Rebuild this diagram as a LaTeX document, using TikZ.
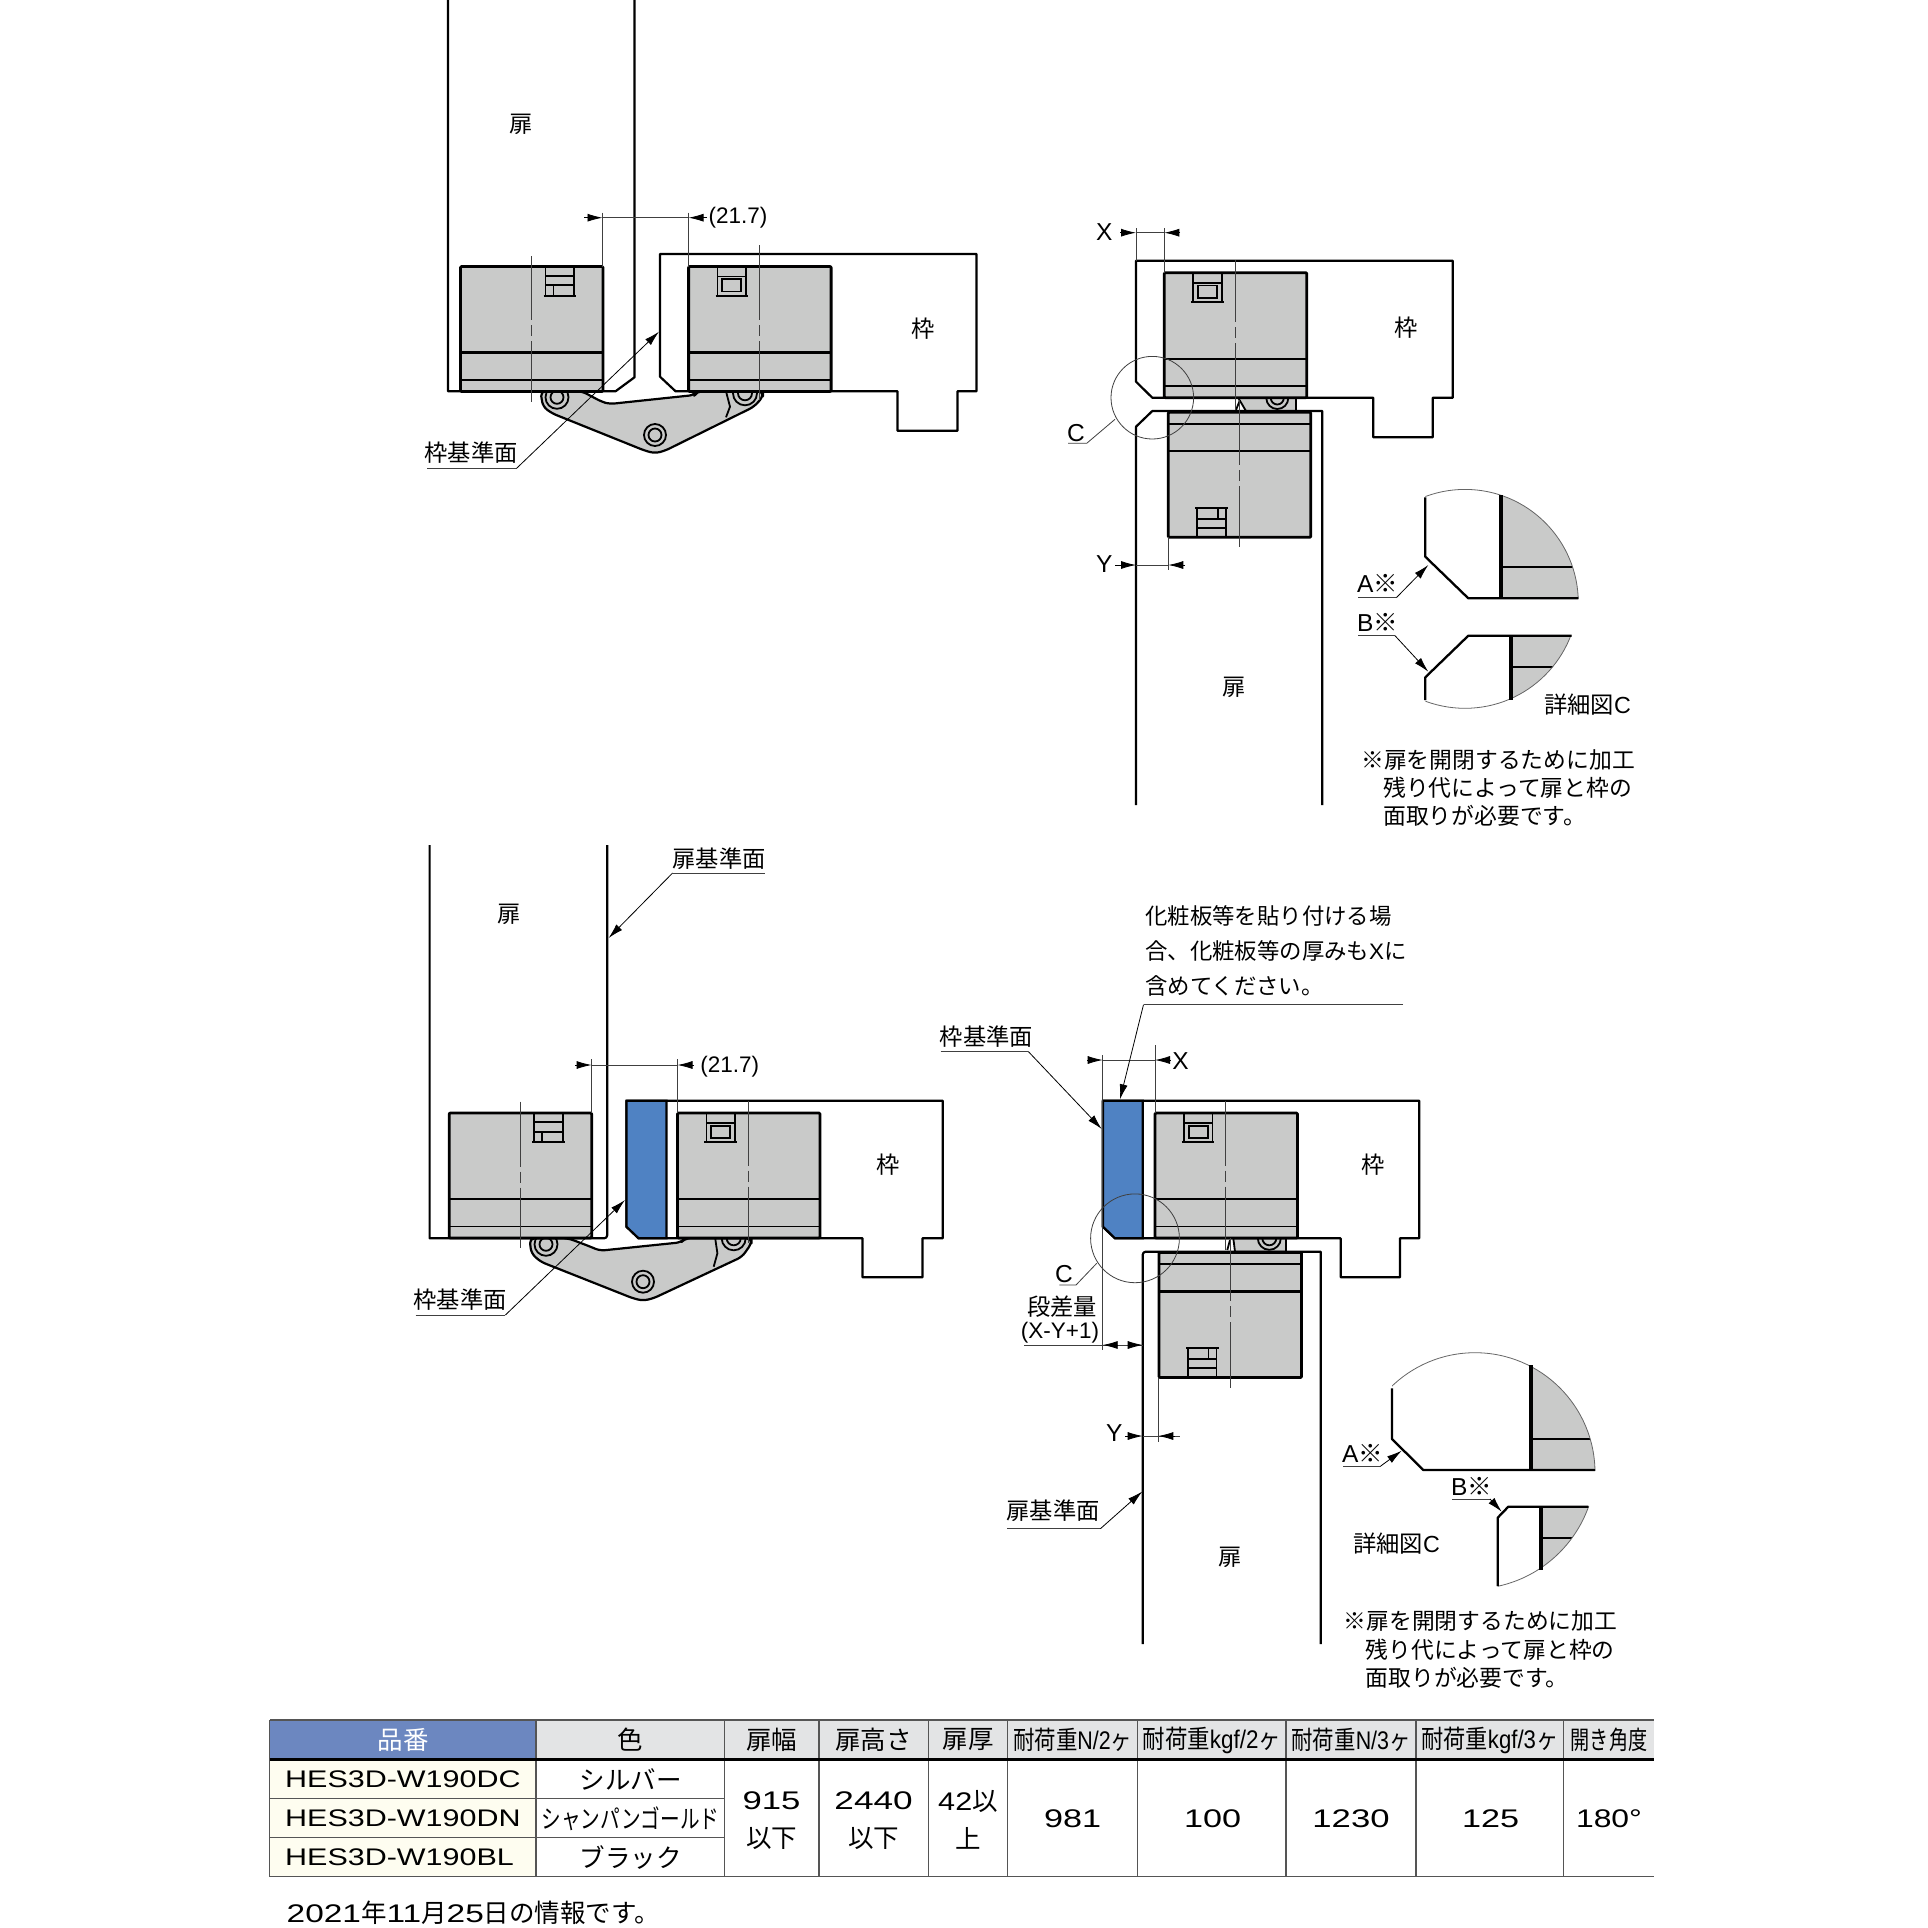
\documentclass[tikz,border=0pt]{standalone}
\usepackage{fontspec}
\usepackage{graphicx}
\usetikzlibrary{arrows.meta}
\setmainfont{Liberation Sans}
\newfontfamily\jpf{Noto Sans CJK JP}
\newcommand{\jp}[1]{{\jpf #1}}
\newcommand{\wn}[2]{\scalebox{#1}[1]{#2}}
\definecolor{hgray}{HTML}{C9CAC9}
\definecolor{bluep}{HTML}{4F82C3}
\definecolor{headb}{HTML}{6C87C0}
\definecolor{headg}{HTML}{E3E4E5}
\definecolor{heady}{HTML}{FEFDF0}
\definecolor{tline}{HTML}{555555}
\tikzset{
  outl/.style={draw=black,line width=2.2pt,line join=round,fill=white},
  boxo/.style={draw=black,line width=2.8pt,fill=hgray,line join=round},
  inl/.style={draw=black,line width=1.8pt},
  bandl/.style={draw=black,line width=2.2pt},
  thinl/.style={draw=black!75,line width=.8pt},
  tipp/.style={draw=black,line width=.8pt,-{Latex[black,length=15pt,width=8pt]}},
  cl/.style={draw=black!75,line width=.8pt,dash pattern=on #1pt off 5pt on 11pt off 5pt on 300pt},
  linkg/.style={draw=black,line width=2.2pt,fill=hgray,rounded corners=5pt,line join=round},
  lb/.style={inner sep=0pt,font=\jpf\fontsize{23.3}{26}\selectfont},
  lat/.style={inner sep=0pt,font=\fontsize{22.5}{26}\selectfont},
  big/.style={inner sep=0pt,font=\fontsize{24.5}{26}\selectfont},
  nt/.style={inner sep=0pt,anchor=west,font=\jpf\fontsize{22.8}{26}\selectfont},
  ntb/.style={inner sep=0pt,anchor=west,font=\jpf\fontsize{22.4}{26}\selectfont},
  tb/.style={inner sep=0pt,font=\fontsize{25.5}{28}\selectfont},
  tbl/.style={draw=tline,line width=1.2pt},
}
\newcommand{\hbase}{%
  \draw[boxo,rounded corners=1pt] (0,0) rectangle (142.5,125);
  \draw[bandl] (1,86) -- (141.5,86);
  \draw[inl] (1,113.5) -- (141.5,113.5);
}
% door-side bracket, ladder pattern
\newcommand{\hingeA}[1]{\begin{scope}[#1]
  \hbase
  \draw[inl] (85,0) -- (85,29.3);
  \draw[inl] (113.5,0) -- (113.5,29.3);
  \draw[inl] (83,29.3) -- (115.5,29.3);
  \draw[inl] (85,9.3) -- (113.5,9.3);
  \draw[inl] (85,18.7) -- (113.5,18.7);
  \draw[inl] (93,19) -- (93,29);
\end{scope}}
% frame-side bracket, window pattern
\newcommand{\hingeB}[1]{\begin{scope}[#1]
  \hbase
  \draw[inl] (28.9,0) -- (28.9,29.3);
  \draw[inl] (57.4,0) -- (57.4,29.3);
  \draw[inl] (26.9,29.3) -- (59.4,29.3);
  \draw[inl] (28.9,10) -- (57.4,10);
  \draw[inl] (33.6,12.7) rectangle (52.6,25);
\end{scope}}
\begin{document}
\begin{tikzpicture}[x=1pt,y=-1pt]
\useasboundingbox (0,0) rectangle (1928,1928);
\fill[white] (0,0) rectangle (1928,1928);

%%%%%%%% Diagram 1 (top left)
\path[linkg] (540.4,391.3) -- (543,406.7) -- (552,413.3) -- (645,450.7) -- (655,453.3) -- (665,450.7) -- (754,406.7) -- (763,396.7) -- (763,391.3) -- (696.6,391.3) -- (694.6,395) -- (609.6,404) -- (601.6,401.7) -- (582,391.3) -- cycle;
\draw[line width=1.8pt] (726,391.3) -- (730,406.7) -- (726,417.3);
\draw[inl] (557,397.3) circle [radius=11.5pt];
\draw[inl] (557,397.3) circle [radius=6.5pt];
\draw[inl] (655,435) circle [radius=11pt];
\draw[inl] (655,435) circle [radius=6.5pt];
\draw[inl] (745,393.3) circle [radius=12pt];
\draw[inl] (745,393.3) circle [radius=7pt];
\path[outl] (448,0) -- (448,391.3) -- (615.5,391.3) -- (634.5,377.3) -- (634.5,0);
\path[outl] (660,254) -- (976.5,254) -- (976.5,391.3) -- (957.5,391.3) -- (957.5,430.7) -- (897.5,430.7) -- (897.5,391.3) -- (675.6,391.3) -- (660,376.7) -- cycle;
\hingeA{shift={(460.5,266.5)}}
\hingeB{shift={(688.6,266.5)}}
\draw[cl=64] (531,256) -- (531,401.7);
\draw[cl=75] (759,245) -- (759,400);
\draw[thinl] (602.5,212.7) -- (602.5,266.5);
\draw[thinl] (688.6,212.7) -- (688.6,266.5);
\draw[thinl] (602.5,217.7) -- (688.6,217.7);
\draw[tipp] (584,217.7) -- (602.5,217.7);
\draw[tipp] (707,217.7) -- (688.6,217.7);
\node[lat] (d1dim) at (738,217.5) {(21.7)};
\node[lb] (d1door) at (521.5,124.5) {扉};
\node[lb] (d1frame) at (923.5,328.5) {枠};
\node[lb] (d1lab) at (471,452.5) {枠基準面};
\draw[thinl] (427,468.3) -- (516.6,468.3);
\draw[tipp] (516.6,468.3) -- (659,331.7);

%%%%%%%% Diagram 2 (top right)
\path[draw=black,line width=1.8pt,fill=hgray] (1238.3,398) -- (1296,398) -- (1296,411) -- (1246,411) -- cycle;
\begin{scope}
  \clip (1238,398) rectangle (1296,411);
  \draw[inl] (1277.3,398) circle [radius=11pt];
  \draw[inl] (1277.3,398) circle [radius=6.5pt];
\end{scope}
\draw[inl] (1236,410) -- (1240,400);
\path[outl] (1136,260.7) -- (1452.7,260.7) -- (1452.7,397.7) -- (1432.7,397.7) -- (1432.7,437.3) -- (1373.3,437.3) -- (1373.3,397.7) -- (1152.3,397.7) -- (1136,381.7) -- cycle;
\path[outl] (1136,805) -- (1136,426.7) -- (1152.3,411) -- (1322.3,411) -- (1322.3,805);
\hingeB{shift={(1164.3,272.7)}}
\hingeA{shift={(1310.8,537.3)},xscale=-1,yscale=-1}
\draw[cl=62] (1235.7,260) -- (1235.7,410);
\draw[cl=65] (1239.3,400) -- (1239.3,547.3);
\draw[thinl] (1136,228) -- (1136,260.7);
\draw[thinl] (1164.3,228) -- (1164.3,272.7);
\draw[thinl] (1136,232.7) -- (1164.3,232.7);
\draw[tipp] (1120,232.7) -- (1136,232.7);
\draw[tipp] (1180,232.7) -- (1164.3,232.7);
\node[big] (d2x) at (1104.3,232.5) {X};
\draw[thinl] (1168.3,537.3) -- (1168.3,570);
\draw[thinl] (1136,565) -- (1168.3,565);
\draw[tipp] (1115,565) -- (1136,565);
\draw[tipp] (1185,565) -- (1168.3,565);
\node[big] (d2y) at (1104.3,564.5) {Y};
\draw[thinl] (1152.3,397.7) circle [radius=41.3pt];
\node[big] (d2c) at (1076,433) {C};
\draw[thinl] (1068,443.3) -- (1086.7,443.3) -- (1115,419.3);
\node[lb] (d2door) at (1234,687.5) {扉};
\node[lb] (d2frame) at (1406,327.5) {枠};
% detail C upper
\begin{scope}
  \clip (1465,602.7) circle [radius=113.3pt];
  \fill[hgray] (1500.7,480) rectangle (1600,598.3);
  \draw[line width=2.1pt] (1500.7,567.3) -- (1600,567.3);
\end{scope}
\begin{scope}
  \clip (1425.3,480) rectangle (1600,598.3);
  \draw[thinl,draw=black!60] (1465,602.7) circle [radius=113.3pt];
\end{scope}
\draw[line width=4pt] (1500.7,495.2) -- (1500.7,598.3);
\draw[line width=2.3pt,line join=round] (1425.3,497.3) -- (1425.3,556.7) -- (1468.3,598.3) -- (1578.3,598.3);
% detail C lower
\begin{scope}
  \clip (1465,595) circle [radius=113.3pt];
  \fill[hgray] (1511.3,635.7) rectangle (1600,720);
  \draw[line width=2.1pt] (1511.3,667.3) -- (1600,667.3);
\end{scope}
\begin{scope}
  \clip (1425.3,635.7) rectangle (1600,720);
  \draw[thinl,draw=black!60] (1465,595) circle [radius=113.3pt];
\end{scope}
\draw[line width=4pt] (1511.3,635.7) -- (1511.3,700);
\draw[line width=2.3pt,line join=round] (1571.7,635.7) -- (1468.3,635.7) -- (1425.3,677.3) -- (1425.3,700);
\node[big] (d2a) at (1377.5,583.5) {A\jp{※}};
\draw[thinl] (1358,597.3) -- (1396.7,597.3);
\draw[tipp] (1396.7,597.3) -- (1428.3,565);
\node[big] (d2b) at (1377.5,622) {B\jp{※}};
\draw[thinl] (1358,635.7) -- (1395,635.7);
\draw[tipp] (1395,635.7) -- (1428.3,671.7);
\node[lb] (d2det) at (1587.5,705) {詳細図\fontspec{Liberation Sans}C};
\node[nt] (d2n1) at (1361,760.5) {※扉を開閉するために加工};
\node[nt] (d2n2) at (1383,787.5) {残り代によって扉と枠の};
\node[nt] (d2n3) at (1383,816) {面取りが必要です。};

%%%%%%%% Diagram 3 (lower left)
\path[linkg] (529.5,1238.3) -- (531.3,1253.3) -- (540.6,1261.7) -- (633,1298.3) -- (643,1300.7) -- (653.4,1298.3) -- (742.2,1256.7) -- (751.5,1243.3) -- (751.5,1238.3) -- (684.9,1238.3) -- (681.2,1242.3) -- (599.8,1250.7) -- (590.5,1246.7) -- (568.3,1238.3) -- cycle;
\draw[line width=1.8pt] (715.2,1238.3) -- (717.4,1253.3) -- (713.7,1266.7);
\draw[inl] (546,1244.3) circle [radius=11.5pt];
\draw[inl] (546,1244.3) circle [radius=6.5pt];
\draw[inl] (643,1281.7) circle [radius=11pt];
\draw[inl] (643,1281.7) circle [radius=6.5pt];
\draw[inl] (733.7,1238.3) circle [radius=12pt];
\draw[inl] (733.7,1238.3) circle [radius=7pt];
\path[outl] (429.6,845) -- (429.6,1238.3) -- (603,1238.3) [rounded corners=3pt] -- (607.2,1238.3) -- (607.2,845);
\path[outl] (626.4,1100.7) -- (942.7,1100.7) -- (942.7,1238.3) -- (922.4,1238.3) -- (922.4,1277.3) -- (862.5,1277.3) -- (862.5,1238.3) -- (638.6,1238.3) -- (626.4,1226.7) -- cycle;
\path[fill=bluep,draw=black,line width=2.2pt] (626.4,1100.7) -- (666.4,1100.7) -- (666.4,1238.3) -- (638.6,1238.3) -- (626.4,1226.7) -- cycle;
\hingeA{shift={(449.2,1113)}}
\hingeB{shift={(677.5,1113)}}
\draw[cl=65] (520.2,1101.7) -- (520.2,1248);
\draw[cl=65] (748.5,1100.7) -- (748.5,1243);
\draw[thinl] (591.6,1059.3) -- (591.6,1113);
\draw[thinl] (677.5,1059.3) -- (677.5,1113);
\draw[thinl] (591.6,1065) -- (677.5,1065);
\draw[tipp] (575,1065) -- (591.6,1065);
\draw[tipp] (694,1065) -- (677.5,1065);
\node[lat] (d3dim) at (729.8,1066.5) {(21.7)};
\node[lb] (d3door) at (509.5,914) {扉};
\node[lb] (d3frame) at (888,1164.5) {枠};
\node[lb] (d3lab) at (460,1300) {枠基準面};
\draw[thinl] (415.5,1315) -- (505.4,1315);
\draw[tipp] (505.4,1315) -- (625,1200);
\node[lb] (d3lab2) at (719,858.5) {扉基準面};
\draw[thinl] (672.6,873) -- (765,873);
\draw[tipp] (672.6,873) -- (608.6,938);

%%%%%%%% Diagram 4 (lower right)
\path[draw=black,line width=1.8pt,fill=hgray] (1233.3,1238.3) -- (1286,1238.3) -- (1286,1251.7) -- (1235,1251.7) -- cycle;
\begin{scope}
  \clip (1233,1238.3) rectangle (1286,1251.7);
  \draw[inl] (1269.3,1238.3) circle [radius=11.5pt];
  \draw[inl] (1269.3,1238.3) circle [radius=7pt];
\end{scope}
\draw[inl] (1227.3,1250) -- (1230,1240);
\path[outl] (1102.7,1100.7) -- (1419.3,1100.7) -- (1419.3,1238.3) -- (1400,1238.3) -- (1400,1277.3) -- (1340.7,1277.3) -- (1340.7,1238.3) -- (1115,1238.3) -- (1102.7,1226.7) -- cycle;
\path[fill=bluep,draw=black,line width=2.2pt] (1103,1100.7) -- (1142.7,1100.7) -- (1142.7,1238.3) -- (1115,1238.3) -- (1103,1226.7) -- cycle;
\path[outl] (1142.7,1644) -- (1142.7,1255.7) [rounded corners=3pt] -- (1142.7,1251.7) -- (1148,1251.7) [sharp corners] -- (1320.7,1251.7) -- (1320.7,1644);
\hingeB{shift={(1155,1113)}}
\hingeA{shift={(1301.5,1377.5)},xscale=-1,yscale=-1}
\draw[cl=65] (1225.7,1100.7) -- (1225.7,1250);
\draw[cl=63] (1230,1238.3) -- (1230,1388.3);
\draw[thinl] (1102.7,1055) -- (1102.7,1350);
\draw[thinl] (1155,1045) -- (1155,1113);
\draw[thinl] (1102.7,1060) -- (1155,1060);
\draw[tipp] (1087,1060) -- (1102.7,1060);
\draw[tipp] (1170,1060) -- (1155,1060);
\node[big] (d4x) at (1180.5,1061) {X};
\draw[thinl] (1024,1345) -- (1142.7,1345);
\draw[tipp] (1118,1345) -- (1102.7,1345);
\draw[tipp] (1127.5,1345) -- (1142.7,1345);
\node[lb] (d4s1) at (1062,1306.5) {段差量};
\node[lat] (d4s2) at (1060,1333) {(X-Y+1)};
\draw[thinl] (1158.3,1377.5) -- (1158.3,1441.7);
\draw[thinl] (1142.7,1436) -- (1180,1436);
\draw[tipp] (1125,1436) -- (1142.7,1436);
\draw[tipp] (1175,1436) -- (1158.3,1436);
\node[big] (d4y) at (1114.3,1433.3) {Y};
\draw[thinl] (1135,1238.3) circle [radius=44.4pt];
\node[big] (d4c) at (1064,1274) {C};
\draw[thinl] (1059.3,1285) -- (1076,1285) -- (1096.7,1263.3);
\node[lb] (d4frame) at (1373.2,1164.5) {枠};
\node[lb] (d4door) at (1230,1557) {扉};
\node[lb] (d4lab1) at (986.5,1037) {枠基準面};
\draw[thinl] (940.7,1051.5) -- (1028.3,1051.5);
\draw[tipp] (1028.3,1051.5) -- (1101.7,1129);
\node[ntb] (d4c1) at (1145,915.5) {化粧板等を貼り付ける場};
\node[ntb] (d4c2) at (1145,951) {合、化粧板等の厚みも\fontspec{Liberation Sans}X\jpf に};
\node[ntb] (d4c3) at (1145,985.5) {含めてください。};
\draw[thinl] (1403,1004.6) -- (1143.5,1004.6);
\draw[tipp] (1143.5,1004.6) -- (1120,1099.3);
\node[lb] (d4lab2) at (1053,1510.5) {扉基準面};
\draw[thinl] (1007,1528.6) -- (1100.5,1528.6);
\draw[tipp] (1100.5,1528.6) -- (1142.3,1491.5);
% detail C upper
\begin{scope}
  \clip (1475,1472.7) circle [radius=120pt];
  \fill[hgray] (1530.7,1340) rectangle (1620,1470);
  \draw[line width=2.1pt] (1530.7,1439) -- (1620,1439);
\end{scope}
\begin{scope}
  \clip (1392,1340) rectangle (1620,1470);
  \draw[thinl,draw=black!60] (1475,1472.7) circle [radius=120pt];
\end{scope}
\draw[line width=4pt] (1530.7,1365) -- (1530.7,1470);
\draw[line width=2.3pt,line join=round] (1392,1388.3) -- (1392,1439) -- (1423.3,1470) -- (1595,1470);
% detail C lower
\begin{scope}
  \clip (1471.7,1465) circle [radius=124pt];
  \fill[hgray] (1540.7,1506.7) rectangle (1620,1600);
  \draw[line width=2.1pt] (1540.7,1538.3) -- (1620,1538.3);
\end{scope}
\begin{scope}
  \clip (1497.7,1506.7) rectangle (1620,1600);
  \draw[thinl,draw=black!60] (1471.7,1465) circle [radius=124pt];
\end{scope}
\draw[line width=4pt] (1540.7,1506.7) -- (1540.7,1570);
\draw[line width=2.3pt,line join=round] (1588.3,1506.7) -- (1508.3,1506.7) -- (1497.7,1517.7) -- (1497.7,1586);
\node[big] (d4a) at (1362.5,1453.5) {A\jp{※}};
\draw[thinl] (1343.3,1466) -- (1380.7,1466);
\draw[tipp] (1380.7,1466) -- (1401.7,1450.7);
\node[big] (d4b) at (1471.5,1486) {B\jp{※}};
\draw[thinl] (1452.3,1499) -- (1490,1499);
\draw[tipp] (1490,1499) -- (1501.7,1511.7);
\node[lb] (d4det) at (1396.5,1543.5) {詳細図\fontspec{Liberation Sans}C};
\node[nt] (d4n1) at (1343.5,1621.5) {※扉を開閉するために加工};
\node[nt] (d4n2) at (1365.5,1650) {残り代によって扉と枠の};
\node[nt] (d4n3) at (1365.5,1678) {面取りが必要です。};

%%%%%%%% Table
\fill[headb] (269.8,1720) rectangle (535.9,1759.3);
\fill[headg] (535.9,1720) rectangle (1654,1759.3);
\fill[heady] (269.8,1759.3) rectangle (535.9,1876.7);
\draw[tbl] (269.8,1798.3) -- (724.3,1798.3);
\draw[tbl] (269.8,1837.3) -- (724.3,1837.3);
\draw[tbl] (269.8,1876.7) -- (1654,1876.7);
\foreach \xx in {269.8,535.9,724.3,819,928.3,1007.8,1137.7,1285.9,1416,1563.6} {
  \draw[tbl] (\xx,1720) -- (\xx,1876.7);
}
\draw[draw=tline,line width=2pt] (269.8,1720) -- (1654,1720);
\draw[draw=black,line width=2.4pt] (269.8,1759.3) -- (1654,1759.3);
\node[tb,text=white] (h1) at (403,1740) {\jp{品番}};
\node[tb] (h2) at (630.5,1740) {\jp{色}};
\node[tb] (h3) at (771.5,1740) {\jp{扉幅}};
\node[tb] (h4) at (873.6,1740) {\jp{扉高さ}};
\node[tb] (h5) at (968,1740) {\jp{扉厚}};
\node[tb] (h6) at (1072.7,1740) {\scalebox{.84}[1]{\jp{耐荷重}N/2\jp{ヶ}}};
\node[tb] (h7) at (1211.8,1740) {\scalebox{.88}[1]{\jp{耐荷重}kgf/2\jp{ヶ}}};
\node[tb] (h8) at (1351,1740) {\scalebox{.84}[1]{\jp{耐荷重}N/3\jp{ヶ}}};
\node[tb] (h9) at (1489.8,1740) {\scalebox{.87}[1]{\jp{耐荷重}kgf/3\jp{ヶ}}};
\node[tb] (h10) at (1609,1740) {\scalebox{.75}[1]{\jp{開き角度}}};
\node[tb,anchor=west] (p1) at (285,1779) {\wn{1.27}{\fontsize{24}{28}\selectfont HES3D-W190DC}};
\node[tb,anchor=west] (p2) at (285,1818.5) {\wn{1.27}{\fontsize{24}{28}\selectfont HES3D-W190DN}};
\node[tb,anchor=west] (p3) at (285,1857.5) {\wn{1.27}{\fontsize{24}{28}\selectfont HES3D-W190BL}};
\node[tb] (c1) at (630.5,1779) {\jp{シルバー}};
\node[tb] (c2) at (630.5,1818.5) {\scalebox{.77}[1]{\jp{シャンパンゴールド}}};
\node[tb] (c3) at (630.5,1857.5) {\jp{ブラック}};
\node[tb] (w1) at (771.5,1801) {\wn{1.36}{915}};
\node[tb] (w2) at (771.5,1838) {\jp{以下}};
\node[tb] (g1) at (873.6,1801) {\wn{1.38}{2440}};
\node[tb] (g2) at (873.6,1838) {\jp{以下}};
\node[tb] (t1) at (968,1801) {\wn{1.2}{42}\jp{以}};
\node[tb] (t2) at (968,1838) {\jp{上}};
\node[tb] (v1) at (1072.7,1819) {\wn{1.34}{981}};
\node[tb] (v2) at (1212.5,1819) {\wn{1.34}{100}};
\node[tb] (v3) at (1351,1819) {\wn{1.36}{1230}};
\node[tb] (v4) at (1490.5,1819) {\wn{1.34}{125}};
\node[tb] (v5) at (1609,1819) {\wn{1.25}{180°}};
\node[tb,anchor=west] (info) at (286.5,1913) {\wn{1.31}{2021}\jp{年}\wn{1.31}{11}\jp{月}\wn{1.31}{25}\jp{日の情報です。}};
\end{tikzpicture}
\end{document}
